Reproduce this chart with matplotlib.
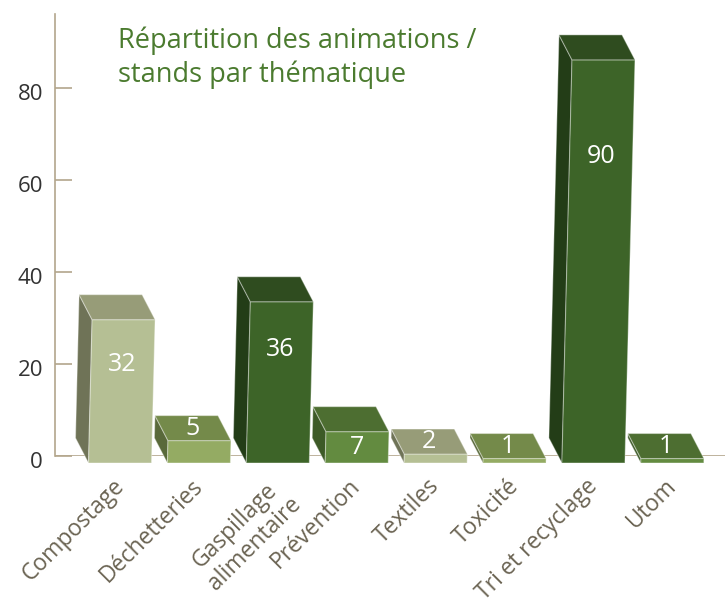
"""
Répartition des animations / stands par thématique : barres pseudo-3D
"""

import numpy as np
import matplotlib.pyplot as plt
from matplotlib.patches import Polygon
from matplotlib.transforms import ScaledTranslation

plt.rcParams['font.family'] = ['Open Sans', 'DejaVu Sans']

# Données
categories = ["Compostage", "Déchetteries", "Gaspillage\nalimentaire", "Prévention",
              "Textiles", "Toxicité", "Tri et recyclage", "Utom"]
values = [32, 5, 36, 7, 2, 1, 90, 1]
y_ticks = [0, 20, 40, 60, 80]

# Couleurs (face avant, dessus, côté), le cycle se répète toutes les 4 barres
front_colors = ["#b5bf94", "#94ab63", "#3d6428", "#638b40"]
top_colors = ["#979c78", "#748a4a", "#2f4c1f", "#4d6e31"]
side_colors = ["#6f7357", "#59693a", "#233d17", "#3d5a27"]
axis_color = "#b3a68c"
title_color = "#4b7b2f"
label_color = "#6b6453"

# Échelles en pixels (figure 725x604)
W, H = 725, 604
px_x = 78.9      # pixels par catégorie
px_y = 4.594     # pixels par unité
ax_left, ax_bottom, ax_top = 55.5, 456, 14

fig = plt.figure(figsize=(W / 100, H / 100), dpi=100)
ax = fig.add_axes([ax_left / W, (H - ax_bottom) / H,
                   (W - ax_left) / W, (ax_bottom - ax_top) / H])
x0 = -(120 - ax_left) / px_x
ax.set_xlim(x0, x0 + (W - ax_left) / px_x)
ax.set_ylim(0, (ax_bottom - ax_top) / px_y)

# Géométrie des barres (en unités des axes)
hw = 31.5 / px_x          # demi-largeur de la face avant
base = -7 / px_y          # bas de la face avant
ddx = -13 / px_x          # profondeur vers la gauche
ddy = 25 / px_y           # profondeur vers le haut
shrink = 0.975            # hauteur de la face avant
lean = 0.025 * px_y / px_x  # légère perspective


def lean_at(h):
    return lean * h


for i, v in enumerate(values):
    h = v * shrink
    top = base + h
    lx = lean_at(h)
    fl, fr = i - hw, i + hw
    c = i % 4
    side = [(fl, base), (fl + lx, top), (fl + lx + ddx, top + ddy), (fl + ddx, base + ddy)]
    front = [(fl, base), (fr, base), (fr + lx, top), (fl + lx, top)]
    roof = [(fl + lx, top), (fr + lx, top), (fr + lx + ddx, top + ddy), (fl + lx + ddx, top + ddy)]
    for pts, col in [(side, side_colors[c]), (front, front_colors[c]), (roof, top_colors[c])]:
        ax.add_patch(Polygon(pts, closed=True, facecolor=col, edgecolor=(1, 1, 1, 0.35),
                             linewidth=0.8, zorder=2 + i * 0.01, clip_on=False))

    # étiquette de valeur
    if v <= 5:
        ty = top + ddy / 2
        tx = i + lx + ddx / 2
    elif v < 20:
        ty = base + h / 2
        tx = i + lean_at(h / 2)
    else:
        ty = 0.78 * v - 5
        tx = i + lean_at(ty - base)
    ax.text(tx, ty, str(v), color="white", fontsize=18, ha="center", va="center",
            zorder=5, clip_on=False)

    # libellé de catégorie
    ax.text(i - 8 / px_x, -18 / px_y, categories[i], color=label_color, fontsize=16.5,
            rotation=45, rotation_mode="anchor", ha="right", va="top",
            multialignment="center", linespacing=1.15, clip_on=False)

# Axes
ax.axhline(0, color=axis_color, lw=1.2, zorder=1)
for s in ["top", "right", "bottom"]:
    ax.spines[s].set_visible(False)
ax.spines["left"].set_color(axis_color)
ax.spines["left"].set_linewidth(1.2)
ax.set_xticks([])
ax.set_yticks(y_ticks)
ax.tick_params(axis="y", direction="in", length=12.2, width=1.2, color=axis_color,
               pad=9, labelsize=16, labelcolor="#333333")
for lab in ax.get_yticklabels():
    lab.set_transform(lab.get_transform() + ScaledTranslation(0, -4 / 100, fig.dpi_scale_trans))

# Titre (ligne de base de la dernière ligne)
fig.text(118 / W, 1 - 82 / H, "Répartition des animations /\nstands par thématique",
         color=title_color, fontsize=19.5, ha="left", va="baseline", linespacing=1.25)

fig.savefig("out.png", dpi=100)
